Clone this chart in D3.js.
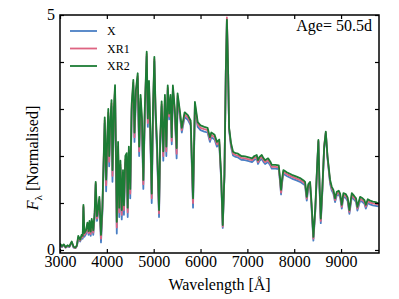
<!DOCTYPE html>
<html><head><meta charset="utf-8">
<script src="https://cdn.jsdelivr.net/npm/d3@7"></script>
<style>body{margin:0;background:#fff}svg{display:block}text{font-family:"Liberation Serif","Times New Roman",serif;fill:#000}</style>
</head><body><svg id="c" width="399" height="299"></svg>
<script>
const wavelength = [3000,3040,3080,3120,3160,3200,3250,3290,3330,3360,3390,3430,3460,3485,3500,3520,3555,3585,3610,3630,3655,3677,3710,3740,3762,3790,3810,3840,3875,3905,3955,3985,4010,4031,4050,4068,4100,4120,4150,4175,4195,4212,4240,4265,4290,4318,4345,4365,4395,4424,4445,4470,4500,4530,4565,4590,4620,4659,4690,4720,4750,4779,4810,4851,4875,4900,4930,4958,4985,5014,5040,5070,5114,5140,5170,5205,5240,5270,5300,5330,5360,5385,5410,5450,5490,5510,5560,5600,5660,5730,5790,5840,5880,5940,6000,6080,6150,6200,6230,6300,6350,6400,6440,6474,6510,6540,6563,6585,6610,6650,6694,6750,6800,6870,6950,7030,7100,7150,7200,7228,7260,7307,7340,7378,7442,7490,7521,7600,7670,7700,7719,7740,7768,7850,7950,8050,8125,8200,8232,8268,8300,8339,8370,8409,8450,8490,8516,8540,8567,8600,8640,8674,8710,8766,8800,8836,8872,8909,8950,8980,9015,9050,9100,9140,9178,9229,9280,9320,9349,9406,9460,9500,9528,9570,9620,9680,9740,9800];
const fluxXR2 = [0.14,0.08,0.12,0.06,0.10,0.08,0.18,0.07,0.05,0.10,0.30,0.22,0.32,0.30,0.96,0.36,0.42,0.58,0.40,0.62,0.39,0.66,0.42,0.80,1.45,0.72,0.85,1.13,0.32,0.92,2.82,1.50,2.40,3.00,2.00,2.60,3.19,1.70,3.00,3.51,2.00,0.60,2.30,0.90,1.90,0.85,1.70,0.95,2.00,2.06,0.90,2.20,1.30,3.10,3.62,2.50,3.40,3.76,2.20,3.30,2.80,1.49,3.00,4.22,2.80,3.60,2.50,1.20,3.00,4.11,3.00,2.30,0.85,2.40,3.16,2.10,3.30,2.20,3.50,2.90,3.30,2.40,3.50,3.00,2.17,3.33,2.95,2.60,2.93,2.87,2.75,1.10,3.15,2.72,2.65,2.62,2.60,2.40,2.50,2.45,2.30,2.35,1.60,0.53,1.60,3.80,4.90,4.00,2.60,2.28,2.09,2.06,2.05,2.00,1.99,1.97,1.95,2.00,2.02,1.91,1.98,2.02,1.96,1.91,1.95,1.88,1.81,1.81,1.80,1.50,1.28,1.50,1.70,1.65,1.60,1.56,1.53,1.48,1.45,1.13,1.40,1.45,1.00,0.28,0.90,1.80,2.34,1.40,0.67,1.30,2.20,2.52,2.00,1.49,1.35,1.28,1.10,1.24,1.26,1.20,0.96,1.21,1.19,1.12,0.85,1.21,1.15,1.10,0.92,1.13,1.10,1.06,0.96,1.08,1.05,1.03,1.02,0.99];
const fluxXR1 = [0.13,0.07,0.11,0.05,0.09,0.07,0.17,0.06,0.04,0.09,0.27,0.20,0.29,0.27,0.93,0.32,0.38,0.55,0.36,0.58,0.34,0.62,0.37,0.76,1.42,0.67,0.80,1.08,0.24,0.86,2.76,1.38,2.30,2.92,1.88,2.52,3.12,1.58,2.92,3.45,1.90,0.48,2.20,0.80,1.82,0.75,1.62,0.85,1.92,1.98,0.80,2.12,1.20,3.02,3.56,2.40,3.32,3.70,2.10,3.22,2.70,1.40,2.92,4.17,2.70,3.53,2.40,1.10,2.92,4.06,2.92,2.20,0.78,2.32,3.10,2.00,3.24,2.10,3.45,2.84,3.25,2.32,3.45,2.94,2.05,3.28,2.90,2.55,2.88,2.82,2.70,1.00,3.10,2.67,2.60,2.57,2.55,2.35,2.45,2.40,2.25,2.30,1.55,0.50,1.58,3.82,4.95,4.05,2.58,2.24,2.05,2.02,2.01,1.96,1.95,1.93,1.91,1.96,1.98,1.87,1.94,1.98,1.92,1.87,1.91,1.84,1.77,1.77,1.76,1.46,1.22,1.46,1.66,1.61,1.56,1.52,1.49,1.44,1.41,1.09,1.36,1.41,0.95,0.24,0.86,1.78,2.32,1.36,0.62,1.26,2.22,2.50,1.98,1.45,1.31,1.24,1.06,1.20,1.22,1.16,0.92,1.17,1.15,1.08,0.81,1.17,1.11,1.06,0.88,1.09,1.06,1.02,0.92,1.04,1.01,0.99,0.98,0.96];
const fluxX = [0.12,0.06,0.10,0.05,0.08,0.06,0.16,0.05,0.04,0.08,0.24,0.18,0.26,0.24,0.90,0.28,0.34,0.52,0.32,0.55,0.30,0.58,0.32,0.72,1.39,0.62,0.75,1.03,0.16,0.80,2.70,1.25,2.20,2.85,1.78,2.45,3.05,1.45,2.85,3.40,1.80,0.35,2.10,0.70,1.75,0.65,1.55,0.75,1.85,1.90,0.70,2.05,1.10,2.95,3.50,2.30,3.25,3.65,2.00,3.15,2.60,1.30,2.85,4.12,2.62,3.47,2.30,1.00,2.85,4.01,2.85,2.10,0.70,2.25,3.05,1.90,3.18,2.00,3.40,2.78,3.20,2.25,3.40,2.88,1.95,3.23,2.85,2.50,2.83,2.77,2.65,0.90,3.05,2.62,2.55,2.52,2.50,2.30,2.40,2.35,2.20,2.25,1.50,0.47,1.56,3.78,4.88,3.98,2.55,2.20,2.01,1.98,1.97,1.92,1.91,1.89,1.87,1.92,1.94,1.83,1.90,1.94,1.88,1.83,1.87,1.80,1.73,1.73,1.72,1.42,1.18,1.42,1.62,1.57,1.52,1.48,1.45,1.40,1.37,1.05,1.32,1.37,0.90,0.20,0.82,1.76,2.30,1.32,0.57,1.22,2.18,2.48,1.96,1.41,1.27,1.20,1.02,1.16,1.18,1.12,0.88,1.13,1.11,1.04,0.77,1.13,1.07,1.02,0.84,1.05,1.02,0.98,0.88,1.00,0.97,0.95,0.94,0.93];
const seriesNames = ["X", "XR1", "XR2"];
const seriesColors = ["#4a7fc4", "#de6482", "#1c7c35"];
const xTicks = [3000, 4000, 5000, 6000, 7000, 8000, 9000];
const yTicks = [0, 1, 2, 3, 4, 5];
const yLabelled = [0, 5];
const ageLabel = "Age= 50.5d";

const svg = d3.select("#c");
const L = 60, R = 379, T = 15, B = 253;
const x = d3.scaleLinear().domain([3000, 9810]).range([L, R]);
const y = d3.scaleLinear().domain([-0.064, 5]).range([B, T]);

const series = [fluxX, fluxXR1, fluxXR2];
svg.append("clipPath").attr("id","clp").append("rect").attr("x",L).attr("y",T).attr("width",R-L).attr("height",B-T);
const g = svg.append("g").attr("clip-path","url(#clp)");
const line = d3.line().x((d,i)=>x(wavelength[i])).y(d=>y(d));
series.forEach((s,k)=>{
  g.append("path").attr("d", line(s)).attr("fill","none").attr("stroke",seriesColors[k]).attr("stroke-width",1.8).attr("stroke-linejoin","round");
});

// axes with inward ticks
const ax = svg.append("g");
ax.append("g").attr("transform",`translate(0,${B})`).call(d3.axisBottom(x).tickValues(xTicks).tickSizeInner(-4).tickSizeOuter(0).tickPadding(3).tickFormat(d3.format("d")));
ax.append("g").attr("transform",`translate(0,${T})`).call(d3.axisTop(x).tickValues(xTicks).tickSizeInner(-4).tickSizeOuter(0).tickFormat(""));
const yAxG = ax.append("g").attr("transform",`translate(${L},0)`).call(d3.axisLeft(y).tickValues(yTicks).tickSizeInner(-4).tickSizeOuter(0).tickPadding(5).tickFormat(d=>yLabelled.includes(d)?String(d):""));
ax.append("g").attr("transform",`translate(${R},0)`).call(d3.axisRight(y).tickValues(yTicks).tickSizeInner(-4).tickSizeOuter(0).tickFormat(""));
ax.selectAll(".domain").remove();
ax.selectAll(".tick line").attr("stroke","#000").attr("stroke-width",1.2);
ax.selectAll("text").attr("font-family",'"Liberation Serif",serif').attr("font-size",16).attr("fill","#000");
yAxG.selectAll("text").attr("dy","0.26em");
svg.append("rect").attr("x",L).attr("y",T).attr("width",R-L).attr("height",B-T).attr("fill","none").attr("stroke","#000").attr("stroke-width",1.5);

// axis labels
svg.append("text").attr("x",(L+R)/2).attr("y",290).attr("text-anchor","middle").attr("font-size",16).text("Wavelength [Å]");
const yl = svg.append("text").attr("transform","translate(38,158) rotate(-90)").attr("text-anchor","middle").attr("font-size",16);
yl.append("tspan").attr("font-style","italic").text("F");
yl.append("tspan").attr("font-size",11).attr("dy",4).text("λ");
yl.append("tspan").attr("dy",-4).text(" [Normalised]");

// age
svg.append("text").attr("x",372).attr("y",31).attr("text-anchor","end").attr("font-size",16).text(ageLabel);

// legend
seriesNames.forEach((n,k)=>{
  const yy = 31 + k*17.5;
  svg.append("line").attr("x1",70).attr("x2",97).attr("y1",yy).attr("y2",yy).attr("stroke",seriesColors[k]).attr("stroke-width",1.8);
  svg.append("text").attr("x",107).attr("y",yy+4).attr("font-size",12).text(n);
});
</script></body></html>
